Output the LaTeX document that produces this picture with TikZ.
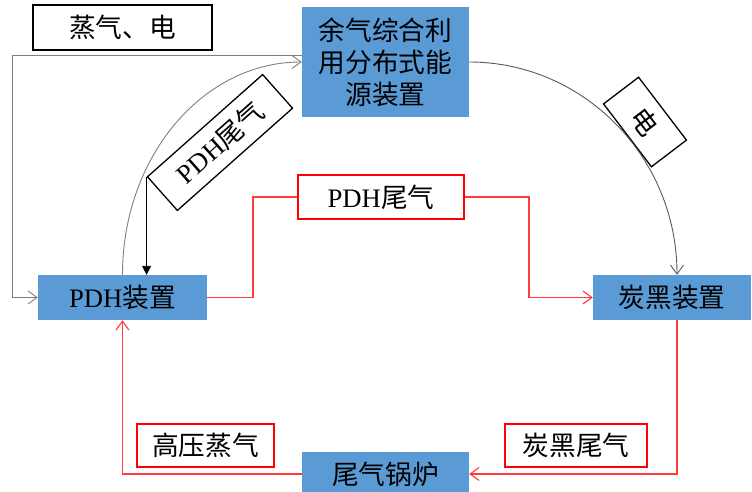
\documentclass[tikz,border=0pt]{standalone}
\usepackage{fontspec}
\setmainfont{Liberation Serif}
\newfontfamily\cjk{Noto Sans CJK SC}
\usetikzlibrary{arrows.meta}
\definecolor{boxblue}{HTML}{5B9BD5}
\definecolor{lred}{HTML}{FF3B3B}
\definecolor{lgray}{HTML}{7F7F7F}
\definecolor{dgray}{HTML}{595959}
\begin{document}
\begin{tikzpicture}[x=1pt,y=-1pt,
  every node/.style={font=\fontsize{26.7}{32}\selectfont, inner sep=0pt},
  unit/.style={fill=boxblue, draw=none, minimum height=45pt},
  tag/.style={draw=black, line width=1.3pt, fill=white},
  rtag/.style={draw=red, line width=1.8pt, fill=white},
  gline/.style={draw=lgray, line width=0.9pt},
  rline/.style={color=lred, line width=1.1pt},
  open/.style={-{Straight Barb[length=9pt,width=13pt]}}
]
\useasboundingbox (0,0) rectangle (752,492);

% units
\node[unit, minimum width=167pt, minimum height=110pt, align=center] (top) at (385.5,62) {\cjk 余气综合利\\\cjk 用分布式能\\\cjk 源装置};
\node[unit, minimum width=169pt] (pdh) at (122.5,297.5) {PDH{\cjk 装置}};
\node[unit, minimum width=158pt] (cb) at (672,297.5) {\cjk 炭黑装置};
\node[unit, minimum width=167pt, minimum height=44pt] (blr) at (385.5,474) {\cjk 尾气锅炉};

% labels
\node[tag, minimum width=179pt, minimum height=45pt] (se) at (122.5,27.5) {\cjk 蒸气、电};
\node[rtag, minimum width=166pt, minimum height=44pt] (pg) at (381,197) {PDH{\cjk 尾气}};
\node[rtag, minimum width=137pt, minimum height=43pt] (hp) at (205.5,445.5) {\cjk 高压蒸气};
\node[rtag, minimum width=142pt, minimum height=43pt] (ct) at (576,445.5) {\cjk 炭黑尾气};
\node[tag, rotate=41.6, minimum width=154pt, minimum height=45pt] (rg) at (220,142.5) {PDH{\cjk 尾气}};
\node[tag, rotate=-52.7, minimum width=79pt, minimum height=44pt] (ed) at (645,122) {\cjk 电};

% connectors
\coordinate (c1) at (12,55);
\coordinate (r1) at (253,197);
\coordinate (r2) at (529,197);
\coordinate (r3) at (677,474);
\draw[gline, open] (top.west |- c1) -- (c1) |- (pdh.west);
\draw[gline, open] (pdh.north) .. controls +(0,-118) and +(-99,0) .. (top.west);
\draw[draw=dgray, line width=0.9pt, open] (top.east) .. controls +(115,0) and +(0,-117) .. ([xshift=5pt]cb.north);
\draw[rline] (pdh.east) -| (r1) -- (pg.west);
\draw[rline, open] (pg.east) -- (r2) |- (cb.west);
\draw[rline, open] ([xshift=5pt]cb.south) -- (r3) -- (blr.east);
\draw[rline, open] (blr.west) -| (pdh.south);
\draw[line width=0.9pt, -{Triangle[length=9pt,width=9pt]}] (rg.north west) -- (rg.north west |- pdh.north);
\end{tikzpicture}
\end{document}
